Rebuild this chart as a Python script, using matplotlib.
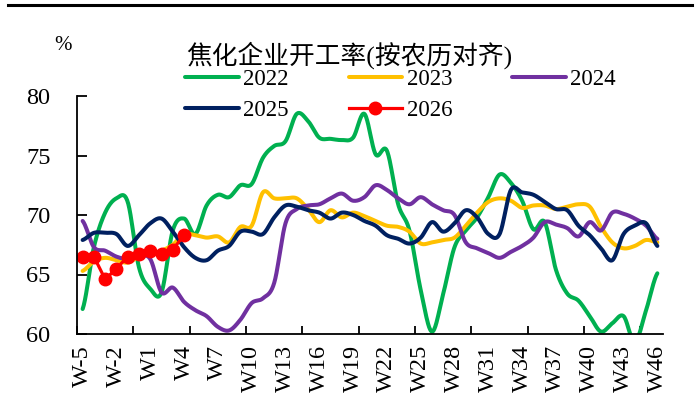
import numpy as np
import matplotlib
matplotlib.use("Agg")
import matplotlib.pyplot as plt

# ---------------- data ----------------
weeks = ["W%d" % w for w in range(-5, 47)]          # categories W-5 .. W46
label_step = 3

y2022 = [62.1, 67.3, 70.2, 71.4, 71.1, 65.6, 63.8, 63.5, 68.7, 69.7,
         68.4, 70.8, 71.7, 71.5, 72.5, 72.6, 74.8, 75.8, 76.2, 78.5,
         77.9, 76.5, 76.4, 76.3, 76.5, 78.5, 75.1, 75.4, 70.9, 68.7,
         63.7, 60.2, 63.4, 67.3, 68.7, 69.8, 71.5, 73.4, 72.7, 71.2,
         68.8, 69.4, 65.4, 63.4, 62.8, 61.5, 60.2, 60.9, 61.5, 59.3,
         62.0, 65.1]
y2023 = [65.3, 66.1, 66.4, 66.2, 66.0, 66.5, 66.7, 67.0, 67.5, 68.4,
         68.3, 68.1, 68.2, 67.7, 69.0, 69.1, 71.9, 71.4, 71.4, 71.4,
         70.5, 69.4, 70.4, 69.8, 70.2, 69.9, 69.5, 69.1, 69.0, 68.6,
         67.6, 67.7, 67.9, 68.1, 69.1, 70.2, 71.1, 71.4, 71.2, 70.6,
         70.8, 70.8, 70.5, 70.7, 70.9, 70.7, 69.0, 67.7, 67.2, 67.4,
         67.9, 67.7]
y2024 = [69.5, 67.3, 67.0, 66.5, 66.3, 66.5, 66.3, 63.5, 63.9, 62.7,
         62.0, 61.5, 60.6, 60.3, 61.2, 62.6, 63.0, 64.3, 69.3, 70.5,
         70.8, 70.9, 71.4, 71.8, 71.2, 71.5, 72.5, 72.1, 71.4, 70.9,
         71.5, 70.9, 70.4, 70.0, 67.7, 67.2, 66.8, 66.4, 66.9, 67.4,
         68.1, 69.4, 69.2, 68.9, 68.2, 69.4, 68.7, 70.2, 70.1, 69.7,
         69.1, 68.0]
y2025 = [67.9, 68.5, 68.5, 68.4, 67.4, 68.3, 69.3, 69.7, 68.6, 67.3,
         66.4, 66.2, 67.0, 67.4, 68.6, 68.6, 68.4, 69.8, 70.8, 70.7,
         70.4, 70.2, 69.7, 70.2, 70.0, 69.5, 69.1, 68.3, 68.0, 67.6,
         68.1, 69.4, 68.6, 69.3, 70.4, 69.8, 68.4, 68.4, 72.1, 71.9,
         71.7, 71.1, 70.5, 70.4, 69.1, 68.3, 67.2, 66.2, 68.4, 69.1,
         69.3, 67.4]
y2026 = [66.5, 66.5, 64.6, 65.5, 66.5, 66.7, 67.0, 66.7, 67.1, 68.3]

series_names = ["2022", "2023", "2024", "2025", "2026"]
colors = ["#00B050", "#FFC000", "#7030A0", "#002060", "#FF0000"]

title = "焦化企业开工率(按农历对齐)"
y_unit = "%"
y_ticks = [60, 65, 70, 75, 80]


def smooth(values, n=20):
    """Catmull-Rom (Excel-like) smoothed path through the data points."""
    y = np.asarray(values, float)
    p = np.concatenate([[y[0]], y, [y[-1]]])
    xs, ys = [], []
    t = np.linspace(0, 1, n, endpoint=False)
    h00 = 2 * t**3 - 3 * t**2 + 1
    h10 = t**3 - 2 * t**2 + t
    h01 = -2 * t**3 + 3 * t**2
    h11 = t**3 - t**2
    for i in range(len(y) - 1):
        p0, p1, p2, p3 = p[i], p[i + 1], p[i + 2], p[i + 3]
        m1 = (p2 - p0) / 2
        m2 = (p3 - p1) / 2
        xs.append(i + t)
        ys.append(h00 * p1 + h10 * m1 + h01 * p2 + h11 * m2)
    xs.append([len(y) - 1])
    ys.append([y[-1]])
    return np.concatenate(xs), np.concatenate(ys)


serif = ["Liberation Serif", "DejaVu Serif"]
cjk = ["Liberation Serif", "Noto Sans CJK SC", "DejaVu Sans"]

W, H = 700, 416
fig = plt.figure(figsize=(W / 100, H / 100), dpi=100)
ax = fig.add_axes([77 / W, (H - 334) / H, (663 - 77) / W, (334 - 96) / H])

handles = {}
for name, vals, col in zip(series_names[:4], [y2022, y2023, y2024, y2025], colors[:4]):
    sx, sy = smooth(vals)
    ln, = ax.plot(sx, sy, color=col, lw=2.9, solid_capstyle="round",
                  solid_joinstyle="round", label=name)
    handles[name] = ln

x26 = np.arange(len(y2026))
ln26, = ax.plot(x26, y2026, color=colors[4], lw=2.3, marker="o", ms=9,
                markeredgecolor=colors[4], label="2026")
handles["2026"] = ln26

ax.set_xlim(-0.5, len(weeks) - 0.5)
ax.set_ylim(60, 80)

# y axis
ax.set_yticks(y_ticks)
ax.set_yticklabels([str(v) for v in y_ticks], fontfamily=serif, fontsize=17.5)
ax.tick_params(axis="y", direction="in", length=7, width=1.3, pad=19)

# x axis: marks every 5 categories (between categories), labels every 3
ax.set_xticks(np.arange(-0.5, len(weeks) - 0.5, 5))
ax.set_xticklabels([])
ax.tick_params(axis="x", which="major", direction="in", length=6, width=1.3)
lab_pos = np.arange(0, len(weeks), label_step)
ax.set_xticks(lab_pos, minor=True)
ax.set_xticklabels([weeks[i] for i in lab_pos], minor=True, rotation=90,
                   fontfamily=serif, fontsize=17.5)
ax.tick_params(axis="x", which="minor", length=0, pad=8)

for s in ["top", "right"]:
    ax.spines[s].set_visible(False)
for s in ["left", "bottom"]:
    ax.spines[s].set_linewidth(1.3)

# legend (row-major order)
order = ["2022", "2025", "2023", "2026", "2024"]
leg = fig.legend([handles[k] for k in order], order, ncol=3, loc="upper left",
                 bbox_to_anchor=(185 / W, (H - 69) / H), frameon=False,
                 borderpad=0, borderaxespad=0, handlelength=2.35,
                 handletextpad=0.2, columnspacing=2.6, labelspacing=0.45,
                 prop={"family": serif, "size": 16.5})

fig.text(349 / W, 1 - 55 / H, title, ha="center", va="center",
         fontsize=18.5, family=cjk)
fig.text(63 / W, 1 - 46 / H, y_unit, ha="center", va="center",
         fontsize=15, family=serif)

# top border line of the page
fig.add_artist(plt.Line2D([8 / W, 692 / W], [1 - 5 / H, 1 - 5 / H],
                          color="black", lw=2.2, transform=fig.transFigure))

fig.savefig("out.png", dpi=100)
